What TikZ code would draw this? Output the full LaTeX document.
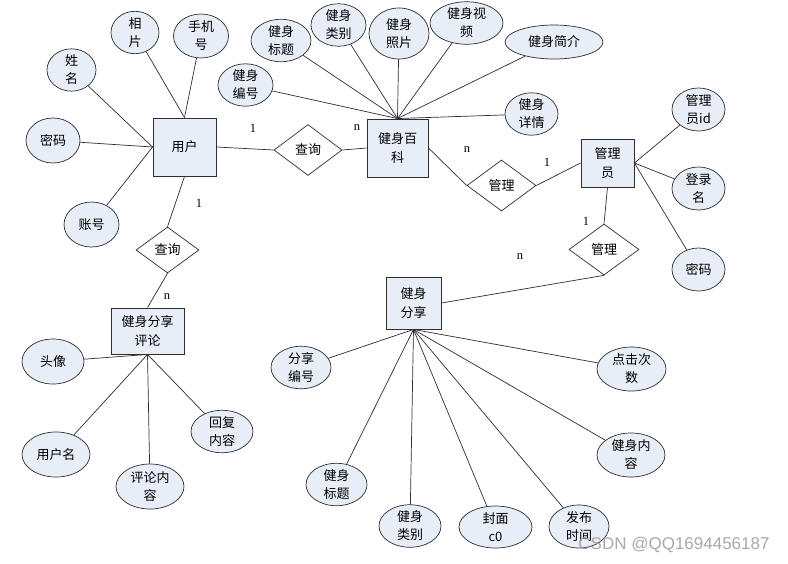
\documentclass[tikz,border=0pt]{standalone}
\usepackage{fontspec}
\usepackage{xcolor}
\newfontfamily\cjk{Noto Sans CJK SC}
\newfontfamily\wmfont{Liberation Sans}
\newfontfamily\cardfont{Liberation Serif}
\usetikzlibrary{shapes.geometric}
\definecolor{boxfill}{HTML}{E8EEF7}
\definecolor{edge}{HTML}{2E2E2E}
\definecolor{wmgray}{HTML}{9A9A9A}
\tikzset{
  entitybox/.style 2 args={
    draw=edge, fill=boxfill, line width=0.9pt, rectangle,
    inner sep=0pt, minimum width=#1pt, minimum height=#2pt,
    align=center, font=\cjk\fontsize{13}{19}\selectfont
  },
  attrnode/.style 2 args={
    draw=edge, fill=boxfill, line width=0.7pt, ellipse,
    inner sep=0pt, minimum width=#1pt, minimum height=#2pt,
    align=center, font=\cjk\fontsize{13}{18}\selectfont
  },
  relbadge/.style 2 args={
    draw=edge, fill=white, line width=0.7pt, diamond,
    inner sep=0pt, minimum width=#1pt, minimum height=#2pt,
    font=\cjk\fontsize{13}{14}\selectfont
  },
  cardlabel/.style={font=\cardfont\fontsize{12.5}{12.5}\selectfont},
  link/.style={draw=edge, line width=0.7pt},
  wmark/.style={font=\wmfont\fontsize{17}{17}\selectfont, text=wmgray, opacity=0.85}
}

\begin{document}
\begin{tikzpicture}[x=1pt,y=-1pt]
  \fill[white] (0,0) rectangle (788,563);
  \useasboundingbox (0,0) rectangle (788,563);

  % entities
  \node[entitybox={63}{58}] (user) at (184.5,147) {用户};
  \node[entitybox={61}{58}] (wiki) at (397.5,148) {健身百\\科};
  \node[entitybox={53}{48}] (admin) at (607.5,163) {管理\\员};
  \node[entitybox={73}{46}] (comment) at (147.5,331) {健身分享\\评论};
  \node[entitybox={55}{52}] (share) at (413.5,303) {健身\\分享};

  % relations
  \node[relbadge={68}{51}] (q1) at (308,150) {查询};
  \node[relbadge={63}{46}] (q2) at (167.5,250) {查询};
  \node[relbadge={69}{51}] (m1) at (501.5,185.5) {管理};
  \node[relbadge={70}{51}] (m2) at (604,249.5) {管理};

  % user attributes
  \node[attrnode={48}{39}] (uphoto) at (135,32.5) {相\\片};
  \node[attrnode={55}{44}] (uphone) at (201,36) {手机\\号};
  \node[attrnode={49}{40}] (uname) at (71.5,70) {姓\\名};
  \node[attrnode={54}{45}] (upwd) at (53,140.5) {密码};
  \node[attrnode={55}{45}] (uacct) at (91.5,224.5) {账号};

  % wiki attributes
  \node[attrnode={55}{40}] (wno) at (245.5,85) {健身\\编号};
  \node[attrnode={60}{41}] (wtitle) at (281,40.5) {健身\\标题};
  \node[attrnode={55}{40}] (wtype) at (338.5,25) {健身\\类别};
  \node[attrnode={60}{51}] (wpic) at (399,33.5) {健身\\照片};
  \node[attrnode={73}{38}] (wvideo) at (466.5,23) {健身视\\频};
  \node[attrnode={98}{34}] (wintro) at (554,42) {健身简介};
  \node[attrnode={53}{42}] (wdetail) at (531.5,114) {健身\\详情};

  % admin attributes
  \node[attrnode={53}{43}] (aid) at (698.5,109.5) {管理\\员id};
  \node[attrnode={53}{43}] (alogin) at (698.5,188.5) {登录\\名};
  \node[attrnode={53}{43}] (apwd) at (698.5,269.5) {密码};

  % comment attributes
  \node[attrnode={62}{45}] (cavatar) at (53,361.5) {头像};
  \node[attrnode={68}{45}] (cuser) at (56,454.5) {用户名};
  \node[attrnode={68}{45}] (ctext) at (150,486.5) {评论内\\容};
  \node[attrnode={62}{41}] (creply) at (222,431.5) {回复\\内容};

  % share attributes
  \node[attrnode={60}{39}] (sno) at (301,367.5) {分享\\编号};
  \node[attrnode={61}{41}] (stitle) at (336.5,484.5) {健身\\标题};
  \node[attrnode={62}{40}] (stype) at (410,526) {健身\\类别};
  \node[attrnode={73}{42}] (scover) at (495.5,527) {封面\hspace{1.5em}\\c0};
  \node[attrnode={60}{43}] (stime) at (579,526.5) {发布\\时间};
  \node[attrnode={68}{44}] (scontent) at (631,455) {健身内\\容};
  \node[attrnode={69}{44}] (sclick) at (631.5,369) {点击次\\数};

  % connectors
  \foreach \a in {uname,upwd,uacct} \draw[link] (\a) -- (user.west);
  \foreach \a in {uphoto,uphone} \draw[link] (\a) -- (user.north);
  \foreach \a in {wno,wtitle,wtype,wpic,wvideo,wintro,wdetail} \draw[link] (\a) -- (wiki.north);
  \foreach \a in {aid,alogin,apwd} \draw[link] (\a) -- (admin.east);
  \foreach \a in {cavatar,cuser,ctext,creply} \draw[link] (\a) -- (comment.south);
  \foreach \a in {sno,stitle,stype,scover,stime,scontent,sclick} \draw[link] (\a) -- (share.south);

  \draw[link] (user.east) -- (q1.west);
  \draw[link] (q1.east) -- (wiki.west);
  \draw[link] (wiki.east) -- (m1.west);
  \draw[link] (m1.east) -- (admin.west);
  \draw[link] (admin.south) -- (m2.north);
  \draw[link] (m2.south) -- (share.east);
  \draw[link] (user.south) -- (q2.north);
  \draw[link] (q2.south) -- (comment.north);

  % cardinalities
  \node[cardlabel] (c1) at (253,128) {1};
  \node[cardlabel] (c2) at (357,128) {n};
  \node[cardlabel] (c3) at (467,150) {n};
  \node[cardlabel] (c4) at (547,162) {1};
  \node[cardlabel] (c5) at (586,221) {1};
  \node[cardlabel] (c6) at (520,257) {n};
  \node[cardlabel] (c7) at (199,203) {1};
  \node[cardlabel] (c8) at (167,297) {n};

  \node[wmark] (wm) at (674,545) {CSDN @QQ1694456187};
\end{tikzpicture}
\end{document}
